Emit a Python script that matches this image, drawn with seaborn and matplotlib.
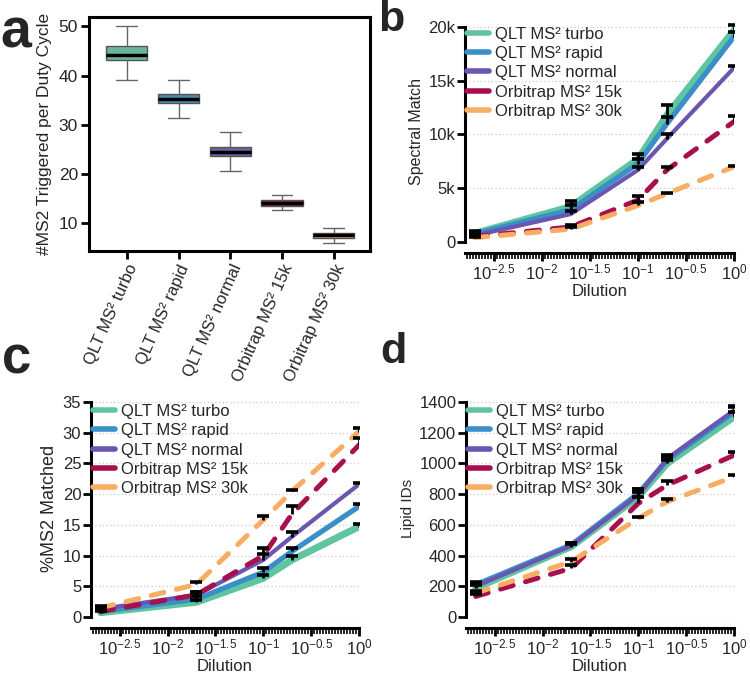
import numpy as np
import matplotlib
matplotlib.use("Agg")
import matplotlib.pyplot as plt
import seaborn as sns
import pandas as pd
from matplotlib.ticker import FixedLocator, FuncFormatter

# methods and colours
methods = ["QLT MS\u00b2 turbo", "QLT MS\u00b2 rapid", "QLT MS\u00b2 normal",
           "Orbitrap MS\u00b2 15k", "Orbitrap MS\u00b2 30k"]
colors = ["#5fc4a0", "#3a8fc8", "#6a55b0", "#a8104d", "#f8ad63"]

# panel a: box summaries (min, q1, median, q3, max)
box_turbo = [39.2, 43.1, 44.2, 46.0, 50.0]
box_rapid = [31.3, 34.5, 35.3, 36.3, 39.2]
box_normal = [20.6, 23.6, 24.5, 25.6, 28.5]
box_15k = [12.8, 13.6, 14.1, 14.8, 15.8]
box_30k = [6.0, 7.0, 7.7, 8.1, 9.0]

# dilution series
dilution = [0.002, 0.02, 0.1, 0.2, 1.0]

# panel b: spectral matches
spec_turbo = [800, 3300, 7700, 11800, 19700]
spec_rapid = [750, 3000, 7300, 11000, 19100]
spec_normal = [600, 2600, 6700, 9600, 16200]
spec_15k = [500, 1400, 3900, 6700, 11200]
spec_30k = [400, 1200, 3400, 4500, 7000]
spec_sd = [[200, 500, 500, 900, 500], [150, 400, 400, 600, 400],
           [150, 300, 300, 400, 200], [100, 200, 400, 300, 500],
           [100, 200, 300, 100, 100]]

# panel c: %MS2 matched
pct_turbo = [0.7, 2.4, 6.3, 9.3, 14.7]
pct_rapid = [0.9, 2.9, 7.3, 10.7, 18.0]
pct_normal = [1.3, 3.6, 9.3, 13.1, 21.6]
pct_15k = [0.9, 3.6, 10.0, 16.8, 28.0]
pct_30k = [1.5, 5.3, 15.8, 20.5, 30.2]
pct_sd = [[0.3, 0.4, 0.5, 0.6, 0.4], [0.3, 0.5, 0.6, 0.6, 0.4],
          [0.3, 0.5, 1.0, 0.7, 0.3], [0.3, 0.4, 1.2, 1.2, 1.2],
          [0.3, 0.4, 0.7, 0.2, 0.6]]

# panel d: lipid IDs
lip_turbo = [188, 459, 783, 1000, 1303]
lip_rapid = [210, 470, 805, 1021, 1335]
lip_normal = [200, 465, 794, 1032, 1346]
lip_15k = [134, 318, 740, 859, 1054]
lip_30k = [156, 361, 643, 751, 913]
lip_sd = [[20, 15, 30, 25, 30], [20, 15, 30, 20, 30],
          [20, 15, 40, 25, 30], [15, 20, 40, 25, 20],
          [15, 15, 10, 15, 15]]

sns.set_theme(style="ticks")
plt.rcParams["font.family"] = ["Liberation Sans", "DejaVu Sans"]
plt.rcParams["mathtext.fontset"] = "custom"
plt.rcParams["mathtext.rm"] = "Liberation Sans"
plt.rcParams["mathtext.it"] = "Liberation Sans:italic"
plt.rcParams["axes.unicode_minus"] = True

fig = plt.figure(figsize=(7.5, 6.76), dpi=100)

W, H = 750.0, 676.0


def place(left, right, top, bottom):
    return fig.add_axes([left / W, 1 - bottom / H, (right - left) / W, (bottom - top) / H])


# ---------------- panel a ----------------
ax_a = place(89, 370, 17, 251)
box_df = pd.DataFrame({
    "method": np.repeat(methods, 5),
    "value": np.concatenate([box_turbo, box_rapid, box_normal, box_15k, box_30k]),
})
sns.boxplot(data=box_df, x="method", y="value", hue="method", palette=colors,
            whis=(0, 100), width=0.8, ax=ax_a, legend=False, linewidth=1.0,
            linecolor="#555555",
            medianprops=dict(color="black", linewidth=2.5),
            capprops=dict(color="#666666", linewidth=1.0),
            whiskerprops=dict(color="#666666", linewidth=1.0))
ax_a.set_ylim(4.4, 51.9)
ax_a.set_xlim(-0.73, 4.7)
ax_a.set_yticks([10, 20, 30, 40, 50])
ax_a.set_xlabel("")
ax_a.set_ylabel("#MS2 Triggered per Duty Cycle", fontsize=12.5, labelpad=5)
for s in ax_a.spines.values():
    s.set_linewidth(2.2)
    s.set_color("black")
ax_a.tick_params(axis="both", width=2.0, length=6, labelsize=12.5, color="black", pad=2)
for lab in ax_a.get_xticklabels():
    lab.set_rotation(66)
    lab.set_ha("right")
    lab.set_rotation_mode("anchor")
    lab.set_fontsize(12)

# ---------------- line panels ----------------
dash_styles = ["-", "-", "-", (0, (2.6, 2.6)), (0, (2.6, 2.6))]
line_widths = [5.0, 3.8, 3.0, 3.6, 3.6]


def line_panel(ax, series, sds, ylim, yticks, ylabel, ylabel_size, fmt=None):
    for name, col, ls, lw, vals, sd in zip(methods, colors, dash_styles, line_widths, series, sds):
        sns.lineplot(x=dilution, y=vals, ax=ax, color=col, lw=lw, label=name,
                     solid_capstyle="round", dash_capstyle="round")
        ax.lines[-1].set_linestyle(ls)
        tops = np.array(vals) + np.array(sd)
        ax.vlines(dilution, vals, tops, color="black", lw=2.0, zorder=5)
        ax.scatter(dilution, tops, marker="_", s=75, linewidths=2.6,
                   color="black", zorder=6)
    ax.set_xscale("log")
    ax.set_xlim(10 ** -2.8, 10 ** 0.0)
    ax.set_ylim(*ylim)
    majors = [10 ** e for e in [-2.5, -2, -1.5, -1, -0.5, 0]]
    ax.xaxis.set_major_locator(FixedLocator(majors))
    ax.xaxis.set_minor_locator(FixedLocator(10 ** (-np.arange(0, 2.81, 0.03125))))
    ax.xaxis.set_major_formatter(FuncFormatter(
        lambda v, p: "$10^{%s}$" % ("%g" % np.log10(v)).replace("-", "\u2212")))
    ax.xaxis.set_minor_formatter(FuncFormatter(lambda v, p: ""))
    ax.set_yticks(yticks)
    if fmt is not None:
        ax.yaxis.set_major_formatter(FuncFormatter(fmt))
    for y in yticks:
        ax.axhline(y, color="#cccccc", lw=0.9, ls=(0, (1, 2)), zorder=0)
    sns.despine(ax=ax)
    ax.spines["bottom"].set_position(("outward", 8))
    ax.spines["left"].set_bounds(yticks[0], yticks[-1])
    for s in ["left", "bottom"]:
        ax.spines[s].set_linewidth(2.2)
        ax.spines[s].set_color("black")
    ax.tick_params(axis="y", width=2.0, length=6, labelsize=12, color="black", pad=1)
    ax.tick_params(axis="x", which="major", width=2.0, length=6, labelsize=12,
                   color="black", pad=1)
    ax.tick_params(axis="x", which="minor", width=1.2, length=4, color="black")
    ax.set_xlabel("Dilution", fontsize=12, labelpad=1)
    ax.set_ylabel(ylabel, fontsize=ylabel_size, labelpad=3)
    leg = ax.legend(loc="upper left", bbox_to_anchor=(0.0, 0.985), frameon=False,
                    fontsize=12, handlelength=1.35, handletextpad=0.35,
                    labelspacing=0.26, borderaxespad=0.0, borderpad=0.1)
    for h in leg.get_lines():
        h.set_linewidth(4.0)
        h.set_linestyle("-")
        h.set_solid_capstyle("round")


ax_b = place(465, 734, 21.6, 242)
line_panel(ax_b, [spec_turbo, spec_rapid, spec_normal, spec_15k, spec_30k], spec_sd,
           (0, 20500), [0, 5000, 10000, 15000, 20000], "Spectral Match", 11.5,
           fmt=lambda v, p: "0" if v == 0 else "%dk" % (v / 1000))

ax_c = place(91, 359, 399, 617)
line_panel(ax_c, [pct_turbo, pct_rapid, pct_normal, pct_15k, pct_30k], pct_sd,
           (0, 35.5), [0, 5, 10, 15, 20, 25, 30, 35], "%MS2 Matched", 13)

ax_d = place(466, 734, 399, 617)
line_panel(ax_d, [lip_turbo, lip_rapid, lip_normal, lip_15k, lip_30k], lip_sd,
           (0, 1420), [0, 200, 400, 600, 800, 1000, 1200, 1400], "Lipid IDs", 11)

# panel letters
fig.text(0 / W, 1 - 8 / H, "a", fontsize=40, fontweight="bold", va="top", ha="left")
fig.text(378 / W, 1 - 0 / H, "b", fontsize=31, fontweight="bold", va="top", ha="left")
fig.text(2 / W, 1 - 335 / H, "c", fontsize=38, fontweight="bold", va="top", ha="left")
fig.text(380 / W, 1 - 332 / H, "d", fontsize=31, fontweight="bold", va="top", ha="left")

fig.savefig("out.png", dpi=100)
